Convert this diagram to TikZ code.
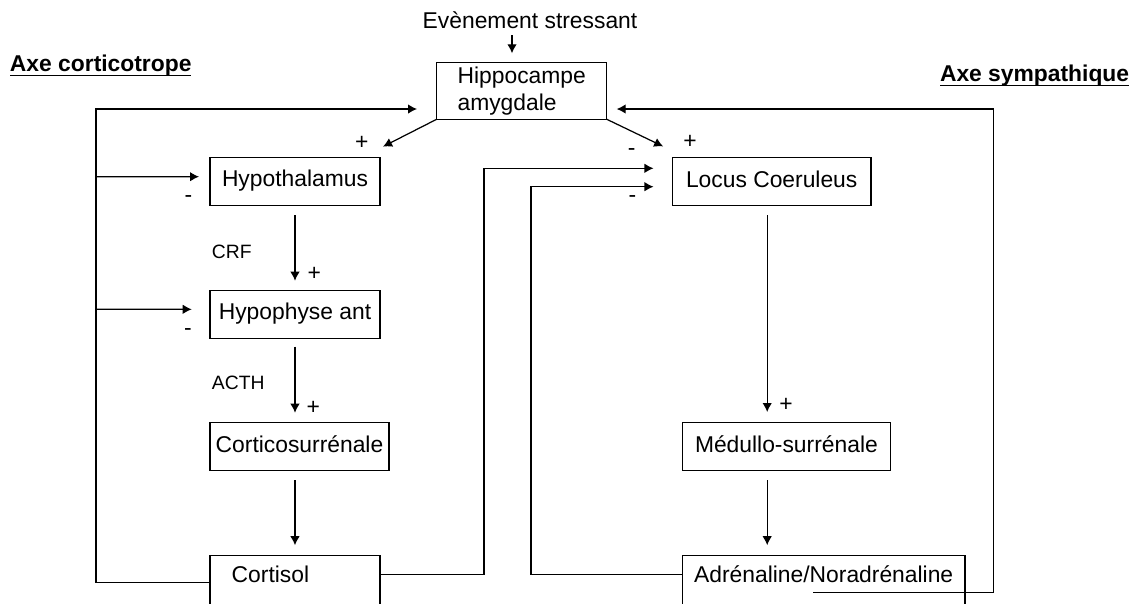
\documentclass[tikz,border=0pt]{standalone}
\usepackage{fontspec}
\setmainfont{Liberation Sans}
\usetikzlibrary{arrows.meta}

\begin{document}
\begin{tikzpicture}[x=0.02cm,y=0.02cm,inner sep=0pt,outer sep=0pt,line width=0.7pt,
>={Latex[length=1.8mm,width=1.9mm]},
cadre/.style={draw,rectangle,inner sep=2pt,font=\fontsize{13}{15.6}\selectfont},
organe/.style={cadre,minimum height=0.96cm,text height=0.8em,text depth=0.16em},
bas/.style={organe,minimum height=1.4cm,text height=0.74em,text depth=0.57cm},
signe/.style={font=\fontsize{13}{15.6}\selectfont},
hormone/.style={font=\fontsize{11}{13}\selectfont},
titre/.style={font=\fontsize{13}{15.6}\selectfont\bfseries,anchor=base west}]

\useasboundingbox (0,0) rectangle (1138,-603);
\clip (0,0) rectangle (1138,-603);

% titres
\draw (10,-71.7) node[titre] (axe1) {Axe corticotrope};
\draw (940,-81.5) node[titre] (axe2) {Axe sympathique};
\draw[line width=0.8pt] ([yshift=-0.07cm]axe1.base west) -- ([yshift=-0.07cm]axe1.base east);
\draw[line width=0.8pt] ([yshift=-0.08cm]axe2.base west) -- ([yshift=-0.08cm]axe2.base east);

\draw (530,-20) node[signe] (stress) {Evènement stressant};
\draw (521.7,-91) node[cadre,minimum width=3.4cm,minimum height=1.13cm,align=left] (hippo) {Hippocampe\\amygdale};

% axe corticotrope
\draw (295,-181.2) node[organe,minimum width=3.4cm] (hypo) {Hypothalamus};
\draw (295,-314.2) node[organe,minimum width=3.4cm] (hypoph) {Hypophyse ant};
\draw (299.5,-446.7) node[organe,minimum width=3.58cm] (cortico) {Corticosurrénale};
\draw (210,-555.7) node[bas,anchor=north west,inner xsep=0.435cm,text width=2.53cm,align=left] (cortisol) {Cortisol};

% axe sympathique
\draw (771.7,-181.4) node[organe,minimum width=3.97cm] (locus) {Locus Coeruleus};
\draw (786.4,-446.5) node[organe,minimum width=4.15cm] (medullo) {Médullo-surrénale};
\draw (823.7,-555.7) node[bas,anchor=north,minimum width=5.65cm] (adren) {Adrénaline/Noradrénaline};

\draw[->,shorten <=0.13cm,shorten >=0.19cm] ([xshift=-0.36cm]stress.south) -- ([xshift=-0.36cm]stress.south |- hippo.north);
\draw[->] (hippo.south west) -- ([shift={(3,10.6)}]hypo.north east);
\draw[->] (hippo.south east) -- ([shift={(-9.3,11)}]locus.north west);

\draw[->,shorten <=0.2cm,shorten >=0.19cm] (hypo) -- (hypoph);
\draw[->,shorten <=0.17cm,shorten >=0.2cm] (hypoph.south) -- (hypoph.south |- cortico.north);
\draw[->,shorten <=0.19cm,shorten >=0.21cm] (cortisol.north |- cortico.south) -- (cortisol.north);
\draw[->,shorten <=0.2cm,shorten >=0.21cm] ([xshift=-0.09cm]locus.south) -- ([xshift=-0.09cm]locus.south |- medullo.north);
\draw[->,shorten <=0.19cm,shorten >=0.21cm] ([xshift=-0.09cm]locus.south |- medullo.south) -- ([xshift=-0.09cm]locus.south |- adren.north);

% retrocontroles
\coordinate (b1) at (96,-176.7);
\coordinate (b2) at (96,-309.3);
\draw[->] ([shift={(0,-27)}]cortisol.north west) -| (96,-109) -- ([shift={(-19.7,-18)}]hippo.west);
\draw[->] (b1) -- ([shift={(-11,4.5)}]hypo.west);
\draw[->] (b2) -- ([shift={(-18.3,4.9)}]hypoph.west);
\draw[->] ([shift={(0,-18.6)}]cortisol.north east) -| (484,-168.3) -- ([shift={(-19,13.1)}]locus.west);
\draw[->] ([shift={(0,-18.6)}]adren.north west) -| (531,-186.7) -- ([shift={(-19,-5.3)}]locus.west);
\draw[->] ([shift={(-10.4,-37)}]adren.north) -| (993.3,-109) -- ([shift={(10,-18)}]hippo.east);

% hormones et signes
\draw (231.7,-251.7) node[hormone] (crf) {CRF};
\draw (238.3,-383.3) node[hormone] (acth) {ACTH};
\draw (361.7,-142.7) node[signe] (p1) {+};
\draw (631.7,-151.7) node[signe] (m1) {-};
\draw (690,-142.3) node[signe] (p2) {+};
\draw (188.3,-199.3) node[signe] (m2) {-};
\draw (188,-331.7) node[signe] (m3) {-};
\draw (314.3,-274.3) node[signe] (p3) {+};
\draw (313.3,-407.7) node[signe] (p4) {+};
\draw (632.3,-199.3) node[signe] (m4) {-};
\draw (786,-405) node[signe] (p5) {+};
\end{tikzpicture}
\end{document}
